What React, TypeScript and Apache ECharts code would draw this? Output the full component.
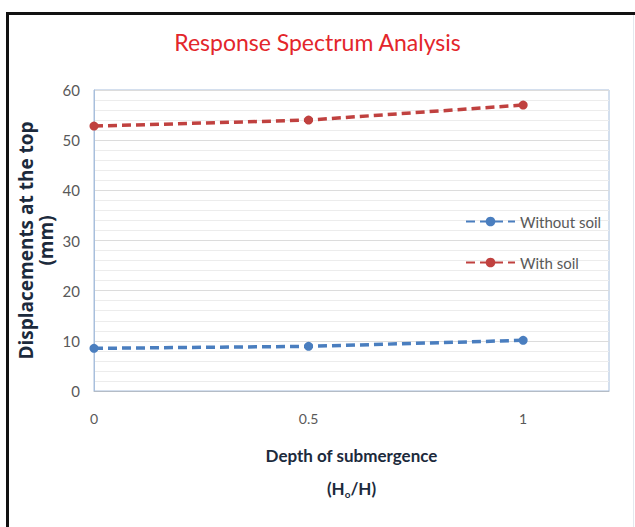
import React, { useEffect, useRef } from "react";
import * as echarts from "echarts";

const depthRatio = [0, 0.5, 1];
const withoutSoil = [8.5, 8.9, 10.1];
const withSoil = [52.8, 54.0, 57.0];
const seriesNames = ["Without soil", "With soil"];

export default function App() {
  const ref = useRef<HTMLDivElement>(null);
  useEffect(() => {
    document.body.style.margin = "0";
    const chart = echarts.init(ref.current!, null, { renderer: "svg" });
    const toPairs = (ys: number[]) => depthRatio.map((x, i) => [x, ys[i]]);
    chart.setOption({
      animation: false,
      backgroundColor: "#ffffff",
      title: {
        text: "Response Spectrum Analysis",
        left: "center",
        top: 25,
        textStyle: { color: "#e3262b", fontFamily: "Lato", fontSize: 23, fontWeight: "normal" },
      },
      graphic: [
        { type: "line", shape: { x1: 7.5, y1: 12, x2: 7.5, y2: 527 }, style: { stroke: "#111", lineWidth: 3 } },
        { type: "line", shape: { x1: 6, y1: 13.5, x2: 635, y2: 13.5 }, style: { stroke: "#111", lineWidth: 3 } },
        { type: "line", shape: { x1: 633.5, y1: 15, x2: 633.5, y2: 527 }, style: { stroke: "#e4e8ee", lineWidth: 1 } },
      ],
      legend: {
        orient: "vertical",
        left: 460,
        top: 209,
        itemWidth: 49,
        itemHeight: 12,
        itemGap: 26,
        textStyle: { color: "#595959", fontFamily: "Lato", fontSize: 15 },
        data: seriesNames,
      },
      grid: {
        left: 94,
        right: 26,
        top: 90,
        bottom: 136,
        show: true,
        borderColor: "#a8bfdc",
        borderWidth: 1,
      },
      xAxis: {
        type: "value",
        min: 0,
        max: 1.2,
        interval: 0.5,
        name: "{a|Depth of submergence}\n{b|(H}{s|o}{b|/H)}",
        nameLocation: "middle",
        nameGap: 48,
        nameMoveOverlap: false,
        nameTextStyle: {
          rich: {
            a: { fontFamily: "Lato", fontWeight: "bold", fontSize: 17, color: "#1c2a3c", lineHeight: 33 },
            b: { fontFamily: "Lato", fontWeight: "bold", fontSize: 17, color: "#1c2a3c", lineHeight: 33 },
            s: { fontFamily: "Lato", fontWeight: "bold", fontSize: 10, color: "#1c2a3c", lineHeight: 33, padding: [10, 0, 0, 0] },
          },
        },
        axisLine: { lineStyle: { color: "#b4bcc6" } },
        axisTick: { show: false },
        splitLine: { show: false },
        axisLabel: {
          showMaxLabel: false,
          margin: 20,
          color: "#595959",
          fontFamily: "Lato",
          fontSize: 14,
        },
      },
      yAxis: {
        type: "value",
        min: 0,
        max: 60,
        interval: 10,
        name: "Displacements at the top\n(mm)",
        nameLocation: "middle",
        nameGap: 38,
        nameMoveOverlap: false,
        nameTextStyle: {
          fontFamily: "Open Sans",
          fontWeight: "bold",
          fontSize: 19,
          lineHeight: 20,
          color: "#1c2a3c",
        },
        axisLine: { show: true, lineStyle: { color: "#a8bfdc" } },
        axisTick: { show: false },
        axisLabel: { margin: 14, color: "#595959", fontFamily: "Lato", fontSize: 15 },
        splitLine: { lineStyle: { color: "#dcdcdc" } },
        minorTick: { show: false, splitNumber: 5 },
        minorSplitLine: { show: true, lineStyle: { color: "#ececec" } },
      },
      series: [
        {
          name: seriesNames[0],
          type: "line",
          data: toPairs(withoutSoil),
          symbol: "circle",
          symbolSize: 9,
          itemStyle: { color: "#4a7ebf" },
          lineStyle: { color: "#4a7ebf", width: 3.5, type: [9, 5] },
        },
        {
          name: seriesNames[1],
          type: "line",
          data: toPairs(withSoil),
          symbol: "circle",
          symbolSize: 9,
          itemStyle: { color: "#c0413f" },
          lineStyle: { color: "#c0413f", width: 3.5, type: [9, 5] },
        },
      ],
    });
    return () => chart.dispose();
  }, []);
  return <div ref={ref} style={{ position: "absolute", left: 0, top: 0, width: 635, height: 527 }} />;
}
